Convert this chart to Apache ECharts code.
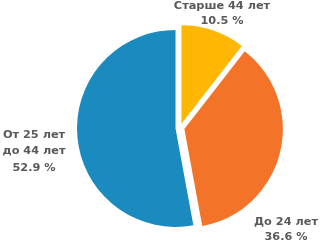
<!DOCTYPE html>
<html><head><meta charset="utf-8">
<script src="https://cdn.jsdelivr.net/npm/echarts@6/dist/echarts.min.js"></script>
<style>html,body{margin:0;padding:0;background:#fff}#c{width:320px;height:242px}</style>
</head><body><div id="c"></div>
<script>
const categories = ['Старше 44 лет', 'До 24 лет', 'От 25 лет\nдо 44 лет'];
const values = [10.5, 36.6, 52.9];
const colors = ['#FFB703', '#F37329', '#1A8ABF'];

// label anchor positions: [x, y, lineHeight]
const labelPos = [[222, 14, 15], [286, 229.5, 15.5], [34, 151.5, 16.5]];

const chart = echarts.init(document.getElementById('c'), null, {renderer: 'canvas'});
chart.setOption({
  animation: false,
  graphic: categories.map((n, i) => ({
    type: 'text',
    x: labelPos[i][0],
    y: labelPos[i][1],
    silent: true,
    style: {
      text: n + '\n' + values[i].toFixed(1) + ' %',
      fill: '#595959',
      fontFamily: 'DejaVu Sans',
      fontWeight: 'bold',
      fontSize: 11.3,
      lineHeight: labelPos[i][2],
      align: 'center',
      verticalAlign: 'middle'
    }
  })),
  series: [{
    type: 'pie',
    center: [180, 128],
    radius: [0, 98.5],
    startAngle: 90,
    clockwise: true,
    selectedMode: 'multiple',
    selectedOffset: 4.5,
    emphasis: {disabled: true},
    label: {show: false},
    labelLine: {show: false},
    data: categories.map((n, i) => ({
      name: n, value: values[i], selected: true,
      itemStyle: {color: colors[i]}
    }))
  }]
});
</script></body></html>
